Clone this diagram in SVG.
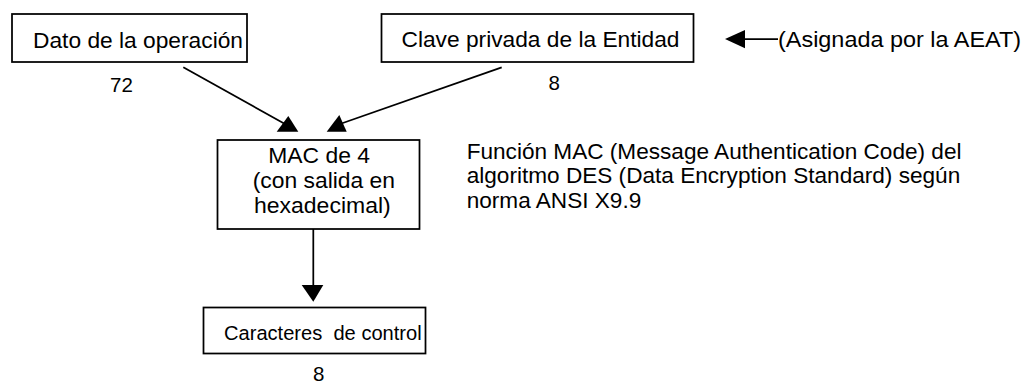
<svg xmlns="http://www.w3.org/2000/svg" width="1026" height="383" viewBox="0 0 1026 383">
<style>
.box{fill:#fff;stroke:#000;stroke-width:1.75}
.t{font-family:"Liberation Sans",Arial,sans-serif;font-size:22px;fill:#000}
.s{font-size:20.5px}
.r{font-size:22.6px}
.ln{stroke:#000;stroke-width:1.75;fill:none}
.ah{fill:#000;stroke:none}
</style>
<rect width="1026" height="383" fill="#fff"/>
<g id="connectors">
<line class="ln" x1="183.3" y1="67.3" x2="285" y2="124"/>
<polygon class="ah" points="276.7,131.7 298.3,131.7 288.3,116"/>
<line class="ln" x1="501.7" y1="67.3" x2="340" y2="124"/>
<polygon class="ah" points="326.7,131.7 346.7,131.7 339.3,115"/>
<line class="ln" x1="313.3" y1="229" x2="313.3" y2="287"/>
<polygon class="ah" points="301.7,285 323.3,285 313.3,301.7"/>
<line class="ln" x1="778" y1="39" x2="743" y2="39"/>
<polygon class="ah" points="725,39 745,30 745,48.3"/>
</g>
<g id="dato">
<rect class="box" x="12" y="14" width="235" height="48"/>
<text class="t" x="33" y="47.5" textLength="210" lengthAdjust="spacingAndGlyphs">Dato de la operación</text>
<text class="t s" x="110" y="91.5">72</text>
</g>
<g id="clave">
<rect class="box" x="381.5" y="14" width="312" height="48"/>
<text class="t" x="401.5" y="47" textLength="278" lengthAdjust="spacingAndGlyphs">Clave privada de la Entidad</text>
<text class="t s" x="548.5" y="90">8</text>
</g>
<g id="asignada">
<text class="t" x="778" y="46.5" textLength="243" lengthAdjust="spacingAndGlyphs">(Asignada por la AEAT)</text>
</g>
<g id="mac">
<rect class="box" x="217.5" y="140" width="202" height="89"/>
<text class="t" x="268.3" y="163.3" textLength="101.7" lengthAdjust="spacingAndGlyphs">MAC de 4</text>
<text class="t" x="252.7" y="188.3" textLength="142.3" lengthAdjust="spacingAndGlyphs">(con salida en</text>
<text class="t" x="254" y="213.3" textLength="136.7" lengthAdjust="spacingAndGlyphs">hexadecimal)</text>
</g>
<g id="funcion">
<text class="t r" x="466.7" y="159.3">Función MAC (Message Authentication Code) del</text>
<text class="t r" x="466.7" y="183.3">algoritmo DES (Data Encryption Standard) según</text>
<text class="t r" x="466.7" y="208.3">norma ANSI X9.9</text>
</g>
<g id="caracteres">
<rect class="box" x="203.5" y="307.5" width="222" height="46"/>
<text class="t s" x="224" y="340" textLength="197.7" lengthAdjust="spacingAndGlyphs" xml:space="preserve">Caracteres  de control</text>
<text class="t s" x="313" y="381">8</text>
</g>
</svg>
